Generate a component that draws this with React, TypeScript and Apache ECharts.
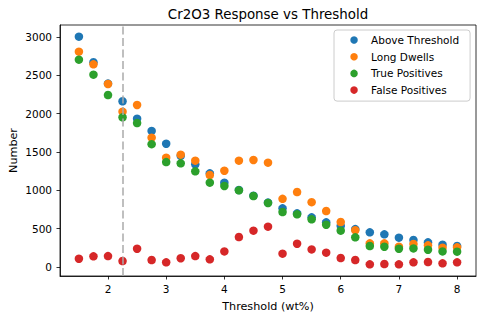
import React, { useEffect, useRef } from "react";
import * as echarts from "echarts";

const thresholds = [1.5, 1.75, 2.0, 2.25, 2.5, 2.75, 3.0, 3.25, 3.5, 3.75, 4.0, 4.25, 4.5, 4.75, 5.0, 5.25, 5.5, 5.75, 6.0, 6.25, 6.5, 6.75, 7.0, 7.25, 7.5, 7.75, 8.0];
const aboveThreshold = [3004, 2670, 2392, 2161, 1935, 1774, 1608, 1450, 1340, 1222, 1100, 1005, 930, 840, 765, 700, 648, 583, 535, 495, 452, 426, 383, 352, 322, 291, 274];
const longDwells = [2808, 2643, 2387, 2026, 2113, 1687, 1426, 1465, 1387, 1200, 1256, 1387, 1396, 1361, 889, 978, 846, 730, 587, 480, 309, 309, 265, 300, 283, 252, 257];
const truePositives = [2704, 2508, 2243, 1952, 1878, 1602, 1368, 1352, 1248, 1100, 1057, 1000, 926, 835, 717, 687, 622, 552, 474, 387, 274, 265, 239, 243, 226, 204, 200];
const falsePositives = [108, 139, 143, 78, 239, 91, 61, 115, 143, 100, 204, 391, 474, 526, 174, 304, 230, 187, 117, 91, 35, 39, 35, 61, 65, 48, 61];

const seriesNames = ["Above Threshold", "Long Dwells", "True Positives", "False Positives"];
const seriesColors = ["#1f77b4", "#ff7f0e", "#2ca02c", "#d62728"];
const xTicks = [2, 3, 4, 5, 6, 7, 8];
const yTicks = [0, 500, 1000, 1500, 2000, 2500, 3000];
const selectedThreshold = 2.25;
const chartTitle = "Cr2O3 Response vs Threshold";
const xName = "Threshold (wt%)";
const yName = "Number";

const FONT = "'DejaVu Sans', sans-serif";

export default function App() {
  const ref = useRef<HTMLDivElement>(null);
  useEffect(() => {
    if (!ref.current) return;
    const chart = echarts.init(ref.current, undefined, { renderer: "svg" });
    const allSeries = [aboveThreshold, longDwells, truePositives, falsePositives];
    const series: any[] = allSeries.map((vals, i) => ({
      name: seriesNames[i],
      type: "scatter",
      symbol: "circle",
      symbolSize: 8.5,
      itemStyle: { color: seriesColors[i], opacity: 1 },
      data: thresholds.map((t, j) => [t, vals[j]]),
      z: 3,
    }));
    series.unshift({
      type: "line",
      data: [],
      silent: true,
      z: 2,
      markLine: {
        silent: true,
        symbol: ["none", "none"],
        label: { show: false },
        lineStyle: { type: [8, 3.5], color: "#aaaaaa", width: 1.5 },
        data: [{ xAxis: selectedThreshold }],
      },
    });
    chart.setOption({
      animation: false,
      textStyle: { fontFamily: FONT },
      graphic: [
        {
          type: "text",
          x: 268,
          y: 14.5,
          style: {
            text: chartTitle,
            fontFamily: FONT,
            fontSize: 13.4,
            fill: "#000",
            textAlign: "center",
            textVerticalAlign: "middle",
          },
        },
      ],
      grid: {
        left: 60,
        right: 9,
        top: 25,
        bottom: 43,
        containLabel: false,
        outerBoundsMode: "none",
        show: true,
        borderColor: "#000",
        borderWidth: 0.8,
        backgroundColor: "transparent",
      },
      legend: {
        orient: "vertical",
        left: 334,
        top: 30,
        padding: [4, 11, 5, 16.3],
        itemWidth: 24,
        itemHeight: 7.5,
        itemGap: 4.7,
        icon: "circle",
        backgroundColor: "rgba(255,255,255,0.8)",
        borderColor: "#cccccc",
        borderWidth: 1,
        borderRadius: 3,
        textStyle: { fontFamily: FONT, fontSize: 10.5, color: "#000", lineHeight: 12 },
        data: seriesNames,
      },
      xAxis: {
        type: "value",
        min: 1.175,
        max: 8.325,
        name: xName,
        nameLocation: "middle",
        nameGap: 25,
        nameMoveOverlap: false,
        nameTextStyle: { fontFamily: FONT, fontSize: 11.2, color: "#000" },
        splitLine: { show: false },
        axisLine: { show: true, onZero: false, lineStyle: { color: "#000", width: 0.8 } },
        axisTick: { show: true, length: 3.5, customValues: xTicks, lineStyle: { color: "#000", width: 0.8 } },
        axisLabel: { customValues: xTicks, fontFamily: FONT, fontSize: 10.5, color: "#000", margin: 7, formatter: (v: number) => String(v) },
      },
      yAxis: {
        type: "value",
        min: -117,
        max: 3156,
        name: yName,
        nameLocation: "middle",
        nameGap: 41,
        nameMoveOverlap: false,
        nameTextStyle: { fontFamily: FONT, fontSize: 11.2, color: "#000" },
        splitLine: { show: false },
        axisLine: { show: true, onZero: false, lineStyle: { color: "#000", width: 0.8 } },
        axisTick: { show: true, length: 3.5, customValues: yTicks, lineStyle: { color: "#000", width: 0.8 } },
        axisLabel: { customValues: yTicks, fontFamily: FONT, fontSize: 10.5, color: "#000", margin: 8, formatter: (v: number) => String(v) },
      },
      series,
    });
    return () => chart.dispose();
  }, []);
  return <div ref={ref} style={{ width: 485, height: 319, position: "absolute", left: 0, top: 0 }} />;
}
